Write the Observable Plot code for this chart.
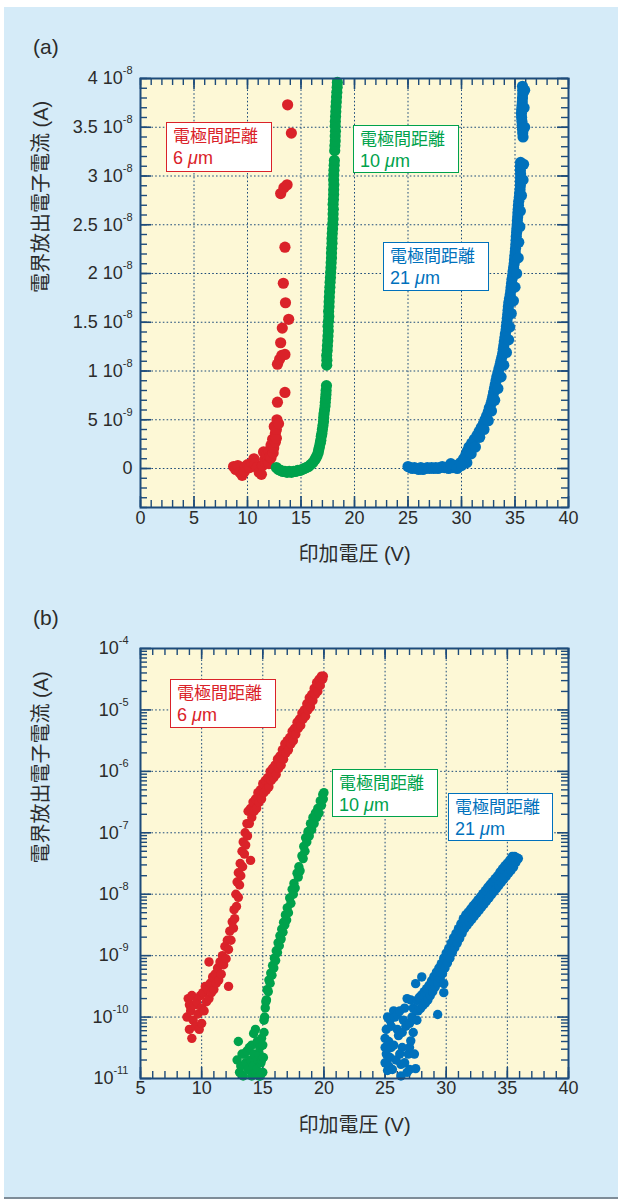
<!DOCTYPE html>
<html><head><meta charset="utf-8">
<script src="https://cdn.jsdelivr.net/npm/d3@7"></script>
<script src="https://cdn.jsdelivr.net/npm/@observablehq/plot@0.6"></script>
<style>
html,body{margin:0;padding:0;background:#fff}
body{width:618px;height:1199px;overflow:hidden;position:relative;font-family:"Liberation Sans",Arial,sans-serif}
#panel{position:absolute;left:4px;top:7px;width:614px;height:1190px;background:#d5ebf8;border-bottom:3px solid #7e8c98}
.chart{position:absolute;left:0}
.tag{position:absolute;left:33px;font-size:21px;line-height:24px;color:#2b2b2b}
.note{position:absolute;box-sizing:border-box;background:#fff;border:1.5px solid;padding:0 0 0 6px;white-space:nowrap}
.note .jp{font-family:"Noto Sans CJK JP",sans-serif;font-size:17px;line-height:24.6px;height:24.6px}
.note .num{font-family:"Liberation Sans",Arial,sans-serif;font-size:18px;line-height:20.2px;height:20.2px}
</style></head>
<body>
<div id="panel"></div>
<div id="chartA" class="chart" style="top:0"></div>
<div id="chartB" class="chart" style="top:590px"></div>
<div class="tag" style="top:35px">(a)</div>
<div class="tag" style="top:606px">(b)</div>
<script>
// ---------- data ----------
const xTitle = "印加電圧 (V)";
const yTitle = "電界放出電子電流 (A)";
const noteLabel = "電極間距離";
const gaps = ["6", "10", "21"]; // electrode gap, μm

// (a) linear plot: [voltage V, current nA]
const aRed = [[8.7,0.2],[8.9,-0.1],[9.1,0.3],[9.3,-0.4],[9.5,-0.7],[9.7,-0.3],[9.8,0.2],[10.0,0.4],[10.2,0.1],[10.4,0.6],[10.6,1.0],[10.7,0.5],[10.9,0.1],[11.1,-0.4],[11.3,-0.6],[11.4,0.3],[11.5,1.7],[11.6,0.9],[11.7,0.6],[11.8,1.4],[11.9,0.8],[12.0,1.8],[12.0,0.5],[12.1,1.2],[12.2,2.4],[12.2,1.1],[12.35,3.0],[12.4,1.6],[12.45,2.1],[12.6,3.6],[12.6,2.7],[12.7,3.1],[12.5,4.3],[12.7,4.0],[12.75,5.0],[12.9,4.6],[12.8,6.8],[13.5,7.8],[12.8,10.7],[13.0,11.2],[13.2,11.6],[13.5,11.7],[13.1,12.9],[13.25,14.4],[13.85,15.3],[13.55,17.0],[13.35,19.0],[13.5,22.7],[13.1,28.2],[13.4,28.8],[13.7,29.1],[14.1,34.4],[13.75,37.3]];
const aGreen = [[12.7,0.1],[12.9,-0.1],[13.1,-0.2],[13.3,-0.3],[13.5,-0.3],[13.7,-0.4],[13.9,-0.3],[14.1,-0.4],[14.3,-0.3],[14.5,-0.3],[14.7,-0.2],[14.9,-0.2],[15.1,-0.1],[15.3,0.0],[15.5,0.1],[15.7,0.2],[15.9,0.4],[16.1,0.6],[16.3,0.9],[16.4,1.1],[16.5,1.3],[16.6,1.6],[16.65,1.9],[16.72,2.2],[16.8,2.6],[16.85,2.9],[16.9,3.3],[16.95,3.6],[17.0,4.0],[17.05,4.4],[17.1,4.8],[17.12,5.2],[17.15,5.6],[17.2,6.0],[17.25,6.4],[17.27,6.8],[17.3,7.2],[17.33,7.6],[17.35,8.0],[17.38,8.5],
  [17.4,10.6],[17.42,11.1],[17.4,11.6],[17.45,12.1],[17.47,12.6],[17.5,13.1],[17.52,13.6],[17.55,14.1],[17.53,14.6],[17.57,15.1],[17.6,15.6],[17.58,16.1],[17.62,16.6],[17.63,17.1],[17.65,17.6],[17.67,18.1],[17.7,18.6],[17.72,19.1],[17.75,19.6],[17.77,20.1],[17.8,20.6],[17.82,21.1],[17.85,21.6],[17.85,22.1],[17.87,22.6],[17.9,23.1],[17.9,23.6],[17.92,24.1],[17.95,24.6],[17.97,25.1],[18.0,25.6],[18.0,26.1],[18.02,26.6],[18.0,27.1],[18.03,27.6],[18.05,28.1],[18.05,28.6],[18.07,29.1],[18.05,29.6],[18.06,30.1],[18.08,30.6],[18.1,31.1],[18.12,31.6],[18.15,32.6],[18.17,33.1],[18.2,33.6],[18.2,34.1],[18.22,34.6],[18.2,35.1],[18.21,35.6],[18.23,36.1],[18.25,36.6],[18.27,37.1],[18.3,37.6],[18.32,38.1],[18.35,38.6],[18.38,39.1],[18.4,39.6]];
const aBlue = [[25.0,0.2],[25.2,0.1],[25.4,0.0],[25.6,0.1],[25.8,0.0],[26.0,-0.1],[26.2,0.1],[26.4,-0.1],[26.6,0.0],[26.8,0.1],[27.0,0.0],[27.2,0.1],[27.4,0.0],[27.6,0.1],[27.8,0.0],[28.0,0.1],[28.2,0.2],[28.4,0.1],[28.6,0.1],[28.8,0.0],[29.0,0.2],[29.2,0.1],[29.4,0.3],[29.6,0.2],[29.8,0.4],
  [29.9,0.6],[30.2,1.0],[30.4,1.4],[30.55,1.8],[30.7,2.2],[30.95,2.6],[31.2,3.0],[31.45,3.4],[31.65,3.8],[31.85,4.2],[32.05,4.6],[32.2,5.0],[32.35,5.4],[32.5,5.8],[32.6,6.2],[32.75,6.6],[32.85,7.0],[32.93,7.4],[33.0,7.8],[33.08,8.2],[33.15,8.6],[33.23,9.0],[33.3,9.4],[33.4,9.8],[33.5,10.2],[33.6,10.6],[33.68,11.0],[33.77,11.4],[33.85,11.8],[33.9,12.2],[33.95,12.6],[34.0,13.0],[34.05,13.4],[34.1,13.8],[34.17,14.2],[34.2,14.6],[34.25,15.0],[34.28,15.4],[34.32,15.8],[34.35,16.2],[34.38,16.6],[34.42,17.0],[34.48,17.4],[34.55,17.8],[34.6,18.2],[34.64,18.6],[34.68,19.0],[34.72,19.4],[34.78,19.8],[34.82,20.2],[34.87,20.6],[34.92,21.0],[34.95,21.4],[34.98,21.8],[35.02,22.2],[35.05,22.6],[35.08,23.0],[35.1,23.4],[35.12,23.8],[35.15,24.2],[35.17,24.6],[35.2,25.0],[35.22,25.4],[35.25,25.8],[35.27,26.2],[35.3,26.6],[35.32,27.0],[35.35,27.4],[35.4,27.8],[35.43,28.2],[35.47,28.6],[35.5,29.0],[35.5,29.4],[35.52,29.8],[35.52,30.2],[35.5,30.6],[35.5,31.0],[35.52,31.4],[35.75,34.0],[35.72,34.4],[35.7,34.8],[35.68,35.2],[35.65,35.6],[35.62,36.0],[35.6,36.4],[35.62,36.8],[35.65,37.2],[35.68,37.6],[35.7,38.0],[35.72,38.4],[35.72,38.8],[35.7,39.2],
  [30.5,0.6],[30.9,1.5],[31.3,2.2],[31.7,3.2],[32.1,4.0],[32.5,4.9],[32.8,5.9],[33.1,7.0],[33.4,8.2],[33.7,9.4],[33.95,10.6],[34.2,11.9],[34.4,13.2],[34.5,14.5],[34.65,15.9],[34.85,17.2],[35.0,18.6],[35.15,20.0],[35.3,21.6],[35.35,23.2],[35.45,24.8],[35.5,26.4],[35.6,28.0],[35.75,29.6],[35.8,31.2],[35.9,35.0],[35.85,37.0],[35.9,38.8],[29.0,0.5],[29.6,0.0],[30.0,0.3]];

// (b) log plot: [voltage V, current A]
const bRed = [[8.8,1.0e-10],[8.9,2.0e-10],[9.0,6.3e-11],[9.0,1.58e-10],[9.1,1.26e-10],[9.2,4.5e-11],[9.2,2.24e-10],[9.3,8.9e-11],[9.4,1.58e-10],[9.5,7.1e-11],[9.6,1.78e-10],[9.7,1.12e-10],[9.8,6.3e-11],[9.9,2.24e-10],[10.0,1.41e-10],[10.0,7.9e-11],[10.1,2.5e-10],[10.2,1.26e-10],[10.3,3.16e-10],[10.4,1.78e-10],[10.5,2.8e-10],[10.6,7.9e-10],[10.6,2.0e-10],[10.7,3.55e-10],[10.8,2.5e-10],[10.9,4.5e-10],[11.0,2.8e-10],[11.1,5.0e-10],[11.2,3.55e-10],[11.3,6.3e-10],[11.4,4.0e-10],[11.5,7.9e-10],[11.6,5.0e-10],[11.7,1.0e-9],[11.8,7.1e-10],[11.9,1.41e-9],[12.0,8.9e-10],[12.1,1.78e-9],[12.2,3.16e-10],[12.2,1.26e-9],[12.3,2.5e-9],[12.4,1.78e-9],[12.5,3.55e-9],[12.6,2.8e-9],[12.65,5.6e-9],[12.7,4.0e-9],[12.8,1.0e-8],[12.85,6.3e-9],[12.9,1.58e-8],[13.0,8.9e-9],[13.0,2.24e-8],[13.1,1.41e-8],[13.15,3.16e-8],[13.2,2.0e-8],[13.3,5.0e-8],[13.35,2.8e-8],[13.4,7.1e-8],[13.5,4.5e-8],[13.55,1.0e-7],[13.6,6.3e-8],[13.7,1.41e-7],[13.75,8.9e-8],[13.8,2.24e-7],[13.9,1.41e-7],[14.0,2.5e-7],[14.0,3.55e-8],[14.1,1.78e-7],[14.2,3.16e-7],[14.3,2.24e-7],[14.4,3.55e-7],[14.5,2.5e-7],[14.6,4.5e-7],[14.7,3.16e-7],[14.8,5.0e-7],[14.9,3.55e-7],[15.0,6.3e-7],[15.1,4.5e-7],[15.2,7.1e-7],[15.3,5.0e-7],[15.4,7.9e-7],[15.5,5.6e-7],[15.6,1.0e-6],[15.7,7.1e-7],[15.8,1.12e-6],[15.9,7.9e-7],[16.0,1.26e-6],[16.1,8.9e-7],[16.2,1.58e-6],[16.3,1.12e-6],[16.4,1.78e-6],[16.5,1.26e-6],[16.6,2.24e-6],[16.7,1.58e-6],[16.8,2.8e-6],[16.9,2.0e-6],[17.0,3.16e-6],[17.1,2.24e-6],[17.2,3.55e-6],[17.3,2.8e-6],[17.4,4.5e-6],[17.5,3.16e-6],[17.6,5.0e-6],[17.7,4.0e-6],[17.8,6.3e-6],[17.9,5.0e-6],[18.0,7.1e-6],[18.1,5.6e-6],[18.2,8.9e-6],[18.3,7.1e-6],[18.4,1.0e-5],[18.5,7.9e-6],[18.6,1.26e-5],[18.7,1.0e-5],[18.8,1.58e-5],[18.9,1.12e-5],[19.0,1.78e-5],[19.1,1.41e-5],[19.2,2.24e-5],[19.3,1.78e-5],[19.4,2.8e-5],[19.5,2.0e-5],[19.6,3.16e-5],[19.7,2.5e-5],[19.8,3.55e-5],[19.9,3.16e-5],[19.95,3.55e-5]];
const bGreen = [[12.9,2.0e-11],[13.0,4.0e-11],[13.1,1.26e-11],[13.2,1.6e-11],[13.3,2.5e-11],[13.4,1.1e-11],[13.5,2.5e-11],[13.6,1.8e-11],[13.7,2.8e-11],[13.8,1.4e-11],[13.9,3.2e-11],[14.0,2.0e-11],[14.1,3.5e-11],[14.1,1.1e-11],[14.2,1.6e-11],[14.25,5.4e-11],[14.3,2.5e-11],[14.4,6.3e-11],[14.4,1.26e-11],[14.5,1.4e-11],[14.55,4.0e-11],[14.6,2.0e-11],[14.7,2.5e-11],[14.7,1.1e-11],[14.75,3.2e-11],[14.8,1.1e-11],[14.85,1.8e-11],[14.9,2.0e-11],[14.9,4.5e-11],[15.0,3.5e-11],[15.0,1.26e-11],[15.05,2.2e-11],[15.1,8.9e-11],[15.1,5.6e-11],
  [15.15,1.0e-10],[15.2,1.41e-10],[15.25,1.78e-10],[15.3,1.9e-10],[15.35,2.8e-10],[15.45,2.6e-10],[15.5,4.0e-10],[15.6,3.55e-10],[15.65,5.2e-10],[15.75,4.8e-10],[15.8,6.9e-10],[15.9,6.3e-10],[15.95,9.1e-10],[16.05,8.3e-10],[16.1,1.2e-9],[16.2,1.12e-9],[16.25,1.62e-9],[16.35,1.45e-9],[16.4,2.1e-9],[16.5,1.86e-9],[16.55,2.7e-9],[16.65,2.4e-9],[16.7,3.5e-9],[16.8,3.16e-9],[16.85,4.6e-9],[16.95,3.8e-9],[17.0,6.0e-9],[17.1,5.0e-9],[17.2,8.7e-9],[17.3,7.1e-9],[17.4,1.2e-8],[17.5,1.0e-8],[17.55,1.5e-8],[17.65,1.26e-8],[17.8,2.2e-8],[17.9,1.9e-8],[17.95,2.8e-8],[18.05,2.4e-8],[18.2,4.2e-8],[18.3,3.8e-8],[18.35,6.0e-8],[18.45,5.0e-8],[18.5,8.3e-8],[18.6,7.1e-8],[18.7,1.05e-7],[18.8,8.9e-8],[18.9,1.41e-7],[19.0,1.12e-7],[19.1,1.78e-7],[19.2,1.41e-7],[19.3,2.1e-7],[19.4,1.78e-7],[19.5,2.5e-7],[19.6,2.1e-7],[19.7,3.3e-7],[19.8,2.8e-7],[19.9,4.2e-7],[19.95,3.55e-7],[20.0,4.5e-7]];
const bBlue = [[25.0,3.2e-11],[25.0,1.8e-11],[25.0,4.5e-11],[25.1,6.3e-11],[25.1,2.5e-11],[25.2,1.0e-10],[25.2,1.35e-11],[25.3,4.0e-11],[25.3,1.6e-11],[25.4,2.2e-11],[25.4,8.9e-11],[25.5,7.1e-11],[25.5,3.2e-11],[25.6,1.4e-11],[25.7,3.5e-11],[25.7,1.26e-10],[25.8,1.0e-10],[25.9,2.0e-11],[26.0,1.1e-10],[26.0,6.3e-11],[26.1,5.0e-11],[26.2,2.5e-11],[26.2,1.26e-10],[26.3,1.7e-11],[26.3,1.1e-11],[26.4,3.2e-11],[26.4,5.6e-11],[26.5,8.9e-11],[26.6,1.4e-10],[26.6,1.8e-11],[26.7,7.1e-11],[26.8,1.26e-11],[26.8,2.0e-10],[26.9,2.5e-11],[27.0,7.9e-11],[27.0,1.4e-11],[27.0,3.2e-11],[27.1,1.9e-10],[27.1,4.1e-11],[27.2,1.0e-10],[27.3,1.4e-10],[27.3,5.6e-11],[27.4,2.5e-11],[27.5,1.45e-11],[27.5,1.3e-10],[27.5,3.5e-10],[27.6,8.9e-11],
  [27.6,1.86e-10],[27.7,1.26e-10],[27.8,2.1e-10],[27.9,1.38e-10],[28.0,2.3e-10],[28.0,4.5e-10],[28.1,1.55e-10],[28.2,2.6e-10],[28.3,1.7e-10],[28.4,2.9e-10],[28.5,1.9e-10],[28.6,3.3e-10],[28.7,2.24e-10],[28.8,3.9e-10],[28.9,2.6e-10],[29.0,4.6e-10],[29.1,3.1e-10],[29.2,5.4e-10],[29.3,3.6e-10],[29.3,1.1e-10],[29.4,6.3e-10],[29.5,4.3e-10],[29.6,7.4e-10],[29.7,5.1e-10],[29.8,9.1e-10],[29.8,2.5e-10],[29.8,3.5e-10],[29.9,6.3e-10],[30.0,1.1e-9],[30.1,7.6e-10],[30.2,1.3e-9],[30.3,9.1e-10],[30.4,1.6e-9],[30.5,1.12e-9],[30.6,1.95e-9],[30.7,1.35e-9],[30.8,2.3e-9],[30.9,1.6e-9],[31.0,2.75e-9],[31.1,1.9e-9],[31.2,3.3e-9],[31.3,2.3e-9],[31.4,4.0e-9],[31.5,2.75e-9],[31.6,4.6e-9],[31.7,3.1e-9],[31.8,5.1e-9],[31.9,3.5e-9],[32.0,5.75e-9],[32.1,3.9e-9],[32.2,6.5e-9],[32.3,4.4e-9],[32.4,7.2e-9],[32.5,4.9e-9],[32.6,8.1e-9],[32.7,5.5e-9],[32.8,9.1e-9],[32.9,6.2e-9],[33.0,1.02e-8],[33.1,6.9e-9],[33.2,1.15e-8],[33.3,7.8e-9],[33.4,1.3e-8],[33.5,8.7e-9],[33.6,1.45e-8],[33.7,9.8e-9],[33.8,1.6e-8],[33.9,1.1e-8],[34.0,1.8e-8],[34.1,1.23e-8],[34.2,2.0e-8],[34.3,1.38e-8],[34.4,2.3e-8],[34.5,1.55e-8],[34.6,2.6e-8],[34.7,1.74e-8],[34.8,2.9e-8],[34.9,1.95e-8],[35.0,3.2e-8],[35.1,2.2e-8],[35.2,3.6e-8],[35.3,2.45e-8],[35.4,4.1e-8],[35.5,2.75e-8],[35.6,4.1e-8],[35.7,3.3e-8],[35.8,3.9e-8],[35.9,3.8e-8]];

// axes
const aXTicks = [0,5,10,15,20,25,30,35,40];
const aYTicks = [0,5e-9,1e-8,1.5e-8,2e-8,2.5e-8,3e-8,3.5e-8,4e-8];
const aYTickLabels = ["0","5 10^-9","1 10^-8","1.5 10^-8","2 10^-8","2.5 10^-8","3 10^-8","3.5 10^-8","4 10^-8"];
const bXTicks = [5,10,15,20,25,30,35,40];
const bYTicks = [1e-11,1e-10,1e-9,1e-8,1e-7,1e-6,1e-5,1e-4];
const bYTickLabels = ["10^-11","10^-10","10^-9","10^-8","10^-7","10^-6","10^-5","10^-4"];

// ---------- style ----------
const RED = "#da2229", GREEN = "#00a24c", BLUE = "#0071bc";
const FRAME = "#1d4b7a", YELLOW = "#fdf8d6", INK = "#2b2b2b";
const LATIN = "Liberation Sans, Arial, sans-serif";
const TITLEFONT = "Liberation Sans, Noto Sans CJK JP, sans-serif";

function edgeTicks(xs, ys, len, pw, ph, sw) {
  const o = {stroke: FRAME, strokeWidth: sw};
  return [
    Plot.tickX(xs, {x: d => d, insetTop: ph - len, ...o}),
    Plot.tickX(xs, {x: d => d, insetBottom: ph - len, ...o}),
    Plot.tickY(ys, {y: d => d, insetRight: pw - len, ...o}),
    Plot.tickY(ys, {y: d => d, insetLeft: pw - len, ...o})
  ];
}

function superscript(svg, supSize, shift) {
  const ns = "http://www.w3.org/2000/svg";
  svg.querySelectorAll("text").forEach(t => {
    const s = t.textContent;
    if (!s.includes("^")) return;
    const [base, exp] = s.split("^");
    t.textContent = "";
    const a = document.createElementNS(ns, "tspan"); a.textContent = base; t.appendChild(a);
    const b = document.createElementNS(ns, "tspan"); b.textContent = exp;
    b.setAttribute("dy", -shift); b.setAttribute("font-size", supSize); t.appendChild(b);
  });
}

function chart({height, marginTop, marginBottom, x, y, xTicks, yTicks, yLabels, xMinor, yMinor, series, r, xLabDy, yLabDx}) {
  const marginLeft = 140, marginRight = 50, width = 618;
  const pw = width - marginLeft - marginRight, ph = height - marginTop - marginBottom;
  const grid = {stroke: FRAME, strokeWidth: 1, strokeDasharray: "1.6,2.2"};
  const yLab = yTicks.map((v, i) => ({v, label: yLabels[i]}));
  const svg = Plot.plot({
    width, height, marginTop, marginBottom, marginLeft, marginRight,
    x: {...x, axis: null}, y: {...y, axis: null},
    style: {background: "transparent", overflow: "visible"},
    marks: [
      Plot.frame({fill: YELLOW}),
      Plot.ruleX(xTicks, {x: d => d, ...grid}),
      Plot.ruleY(yTicks, {y: d => d, ...grid}),
      ...edgeTicks(xMinor, yMinor, 7, pw, ph, 1.4),
      ...edgeTicks(xTicks, yTicks, 11, pw, ph, 1.6),
      ...series.map(s => Plot.dot(s.data, {x: d => d[0], y: s.y, r, fill: s.color, stroke: "none"})),
      Plot.frame({stroke: FRAME, strokeWidth: 2}),
      Plot.text(xTicks, {x: d => d, frameAnchor: "bottom", dy: xLabDy, text: d => String(d), fontSize: 18, fontFamily: LATIN, fill: INK}),
      Plot.text(yLab, {y: d => d.v, frameAnchor: "left", dx: yLabDx, textAnchor: "end", text: d => d.label, fontSize: 18, fontFamily: LATIN, fill: INK}),
      Plot.text([xTitle], {frameAnchor: "bottom", dy: 53, text: d => d, fontSize: 20, fontFamily: TITLEFONT, fill: INK}),
      Plot.text([yTitle], {frameAnchor: "left", dx: -99, rotate: -90, text: d => d, fontSize: 20, fontFamily: TITLEFONT, fill: INK})
    ]
  });
  superscript(svg, 11, 10);
  return svg;
}

const aXMinor = d3.range(0, 41, 1);
const aYMinor = d3.range(-4, 41, 1).map(k => k * 1e-9);
document.getElementById("chartA").append(chart({
  height: 590, marginTop: 78, marginBottom: 83,
  x: {domain: [0, 40]}, y: {domain: [-4e-9, 4e-8]},
  xTicks: aXTicks, yTicks: aYTicks, yLabels: aYTickLabels,
  xMinor: aXMinor, yMinor: aYMinor,
  series: [
    {data: aRed, color: RED, y: d => d[1] * 1e-9},
    {data: aGreen, color: GREEN, y: d => d[1] * 1e-9},
    {data: aBlue, color: BLUE, y: d => d[1] * 1e-9}
  ],
  r: 5.6, xLabDy: 16, yLabDx: -8
}));

const bXMinor = d3.range(5, 41, 1);
const mult = [2,3,4,5,6,7,8,9];
const bYMinor = bYTicks.slice(0, -1).flatMap(d => mult.map(m => m * d));
document.getElementById("chartB").append(chart({
  height: 609, marginTop: 58, marginBottom: 121,
  x: {domain: [5, 40]}, y: {type: "log", domain: [1e-11, 1e-4]},
  xTicks: bXTicks, yTicks: bYTicks, yLabels: bYTickLabels,
  xMinor: bXMinor, yMinor: bYMinor,
  series: [
    {data: bRed, color: RED, y: d => d[1]},
    {data: bGreen, color: GREEN, y: d => d[1]},
    {data: bBlue, color: BLUE, y: d => d[1]}
  ],
  r: 4.7, xLabDy: 15, yLabDx: -12
}));

// annotation boxes
const notes = [
  {left:166, top:122, w:106, h:50, color:RED, gap:gaps[0]},
  {left:353, top:125, w:106, h:48, color:GREEN, gap:gaps[1]},
  {left:383, top:242, w:106, h:49, color:BLUE, gap:gaps[2]},
  {left:170, top:679, w:106, h:49, color:RED, gap:gaps[0]},
  {left:332, top:769, w:106, h:48, color:GREEN, gap:gaps[1]},
  {left:448, top:793, w:105, h:48, color:BLUE, gap:gaps[2]}
];
for (const n of notes) {
  const d = document.createElement("div");
  d.className = "note";
  Object.assign(d.style, {left: n.left + "px", top: n.top + "px", width: n.w + "px", height: n.h + "px", color: n.color, borderColor: n.color});
  d.innerHTML = `<div class="jp">${noteLabel}</div><div class="num">${n.gap} <i>μ</i>m</div>`;
  document.body.append(d);
}
</script>
</body></html>
